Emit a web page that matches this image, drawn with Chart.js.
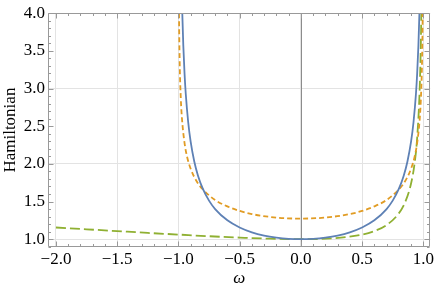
<!DOCTYPE html>
<html>
<head>
<meta charset="utf-8">
<script src="https://cdn.jsdelivr.net/npm/chart.js@4/dist/chart.umd.min.js"></script>
<style>
html,body{margin:0;padding:0;background:#fff;}
#wrap{width:436px;height:291px;position:relative;}
</style>
</head>
<body>
<div id="wrap"><canvas id="c" width="436" height="291"></canvas></div>
<script>
// ---- data ----
const blueOmega = [-0.985,-0.975,-0.968,-0.96,-0.95,-0.94,-0.92,-0.9,-0.87,-0.84,-0.8,-0.75,-0.7,-0.6,-0.5,-0.4,-0.3,-0.2,-0.1,0,0.1,0.2,0.3,0.4,0.5,0.6,0.7,0.75,0.8,0.84,0.87,0.9,0.92,0.94,0.95,0.96,0.968,0.975,0.985];
const blueH = [5.795,4.500,3.985,3.571,3.203,2.931,2.552,2.294,2.028,1.843,1.667,1.512,1.400,1.250,1.155,1.091,1.048,1.021,1.005,1.000,1.005,1.021,1.048,1.091,1.155,1.250,1.400,1.512,1.667,1.843,2.028,2.294,2.552,2.931,3.203,3.571,3.985,4.500,5.795];

const orangeOmega = [-0.998,-0.995,-0.99,-0.98,-0.97,-0.95,-0.93,-0.9,-0.85,-0.8,-0.7,-0.6,-0.5,-0.4,-0.2,0,0.2,0.4,0.5,0.6,0.7,0.8,0.85,0.9,0.93,0.95,0.97,0.98,0.99,0.995,0.998];
const orangeH = [5.063,4.028,3.390,2.854,2.582,2.278,2.100,1.935,1.765,1.660,1.520,1.435,1.375,1.333,1.287,1.273,1.287,1.333,1.375,1.435,1.520,1.660,1.765,1.935,2.100,2.278,2.582,2.854,3.390,4.028,5.063];

const greenOmega = [-2,-1.75,-1.5,-1.25,-1,-0.75,-0.5,-0.25,0,0.25,0.5,0.6,0.7,0.8,0.85,0.9,0.93,0.95,0.97,0.98,0.985,0.99];
const greenH = [1.155,1.131,1.107,1.083,1.061,1.039,1.021,1.006,1.000,1.010,1.061,1.107,1.187,1.342,1.485,1.739,2.022,2.348,2.973,3.606,4.144,5.050];

const xTicks = [-2.0,-1.5,-1.0,-0.5,0.0,0.5,1.0];
const yTicks = [1.0,1.5,2.0,2.5,3.0,3.5,4.0];
const xRange = [-2.065, 1.057];
const yRange = [0.896, 4.0];
const xTitle = 'ω';
const yTitle = 'Hamiltonian';
// --------------------------------------

const pts = (xs, ys) => xs.map((x, i) => ({x: x, y: ys[i]}));
const fmt = v => { const s = Math.abs(v).toFixed(1); return (v < 0 ? '\u2212' : '') + s; };
const FONT = "'Liberation Serif', 'DejaVu Serif', serif";

const framePlugin = {
  id: 'frame',
  beforeDatasetsDraw(chart) {
    const {ctx, chartArea: a, scales: {x, y}} = chart;
    ctx.save();
    ctx.strokeStyle = '#8c8c8c';
    ctx.lineWidth = 1;
    const px = Math.round(x.getPixelForValue(0)) + 0.5;
    ctx.beginPath(); ctx.moveTo(px, a.top); ctx.lineTo(px, a.bottom); ctx.stroke();
    ctx.restore();
  },
  afterDatasetsDraw(chart) {
    const {ctx, chartArea: a, scales: {x, y}} = chart;
    ctx.save();
    ctx.strokeStyle = '#999999';
    ctx.lineWidth = 1;
    const L = Math.round(a.left) + 0.5, R = Math.round(a.right) - 0.5;
    const T = Math.round(a.top) + 0.5, B = Math.round(a.bottom) - 0.5;
    ctx.beginPath();
    ctx.rect(L, T, R - L, B - T);
    ctx.stroke();
    ctx.beginPath();
    for (let k = -21; k <= 11; k++) {
      const v = k / 10;
      if (v < xRange[0] || v > xRange[1]) continue;
      const major = (k % 5 === 0);
      const len = major ? 5 : 2.5;
      const p = Math.round(x.getPixelForValue(v)) + 0.5;
      ctx.moveTo(p, B); ctx.lineTo(p, B - len);
      ctx.moveTo(p, T); ctx.lineTo(p, T + len);
    }
    for (let k = 9; k <= 40; k++) {
      const v = k / 10;
      if (v < yRange[0] || v > yRange[1]) continue;
      const major = (k % 5 === 0);
      const len = major ? 5 : 2.5;
      const p = Math.round(y.getPixelForValue(v)) + 0.5;
      ctx.moveTo(L, p); ctx.lineTo(L + len, p);
      ctx.moveTo(R, p); ctx.lineTo(R - len, p);
    }
    ctx.stroke();
    ctx.restore();
  }
};

new Chart(document.getElementById('c'), {
  type: 'scatter',
  data: {
    datasets: [
      {data: pts(blueOmega, blueH), borderColor: '#5E81B5', borderWidth: 1.8, showLine: true, pointRadius: 0, cubicInterpolationMode: 'monotone', clip: 0},
      {data: pts(orangeOmega, orangeH), borderColor: '#E19C24', borderWidth: 1.8, borderDash: [5, 3], showLine: true, pointRadius: 0, cubicInterpolationMode: 'monotone', clip: 0},
      {data: pts(greenOmega, greenH), borderColor: '#8FB032', borderWidth: 1.8, borderDash: [10, 4], showLine: true, pointRadius: 0, cubicInterpolationMode: 'monotone', clip: 0}
    ]
  },
  options: {
    responsive: false,
    animation: false,
    events: [],
    layout: {padding: {left: 0, right: 4, top: 9, bottom: 0}},
    plugins: {legend: {display: false}, tooltip: {enabled: false}},
    scales: {
      x: {
        type: 'linear', min: xRange[0], max: xRange[1],
        afterBuildTicks: s => { s.ticks = xTicks.map(v => ({value: v})); },
        afterFit: s => { s.height = 44; },
        border: {display: false},
        grid: {color: '#e3e3e3', lineWidth: 1, drawTicks: false},
        ticks: {color: '#000', font: {family: FONT, size: 17}, padding: 2, maxRotation: 0, autoSkip: false, callback: v => fmt(v)},
        title: {display: true, text: xTitle, color: '#000', font: {family: FONT, size: 17, style: 'italic'}, padding: {top: 0, bottom: 2}}
      },
      y: {
        type: 'linear', min: yRange[0], max: yRange[1],
        afterBuildTicks: s => { s.ticks = yTicks.map(v => ({value: v})); },
        afterFit: s => { s.width = 48; },
        border: {display: false},
        grid: {color: c => (c.tick && Math.abs(c.tick.value - Math.round(c.tick.value)) < 1e-6) ? '#e3e3e3' : 'rgba(0,0,0,0)', lineWidth: 1, drawTicks: false},
        ticks: {color: '#000', font: {family: FONT, size: 17}, padding: 3, autoSkip: false, callback: v => fmt(v)},
        title: {display: true, text: yTitle, color: '#000', font: {family: FONT, size: 17}, padding: {top: 0, bottom: 0}}
      }
    }
  },
  plugins: [framePlugin]
});
</script>
</body>
</html>
